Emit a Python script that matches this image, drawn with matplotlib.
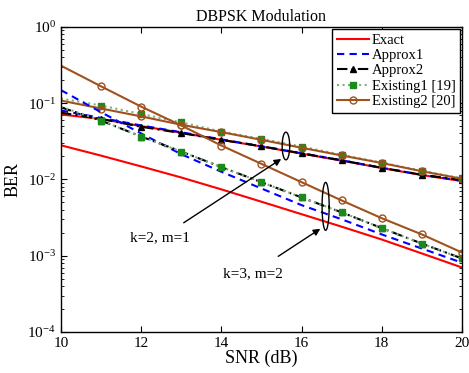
import numpy as np
import matplotlib
matplotlib.use("Agg")
import matplotlib.pyplot as plt
from matplotlib.ticker import LogLocator, NullFormatter

plt.rcParams['font.family'] = ['Liberation Serif', 'DejaVu Serif']
plt.rcParams['mathtext.fontset'] = 'custom'
plt.rcParams['mathtext.rm'] = 'Liberation Serif'

snr = [10, 11, 12, 13, 14, 15, 16, 17, 18, 19, 20]

# k=2, m=1
exact_a = [0.071, 0.062, 0.050, 0.041, 0.033, 0.027, 0.0218, 0.0176, 0.0141, 0.0114, 0.0095]
approx1_a = [0.080, 0.064, 0.051, 0.0415, 0.0335, 0.0272, 0.022, 0.0178, 0.0142, 0.0115, 0.0096]
approx2_a = [0.075, 0.062, 0.049, 0.0405, 0.033, 0.0272, 0.022, 0.0178, 0.0142, 0.0115, 0.0098]
exist1_a = [0.115, 0.093, 0.072, 0.056, 0.0424, 0.034, 0.027, 0.021, 0.0166, 0.013, 0.0103]
exist2_a = [0.108, 0.085, 0.067, 0.052, 0.0417, 0.033, 0.026, 0.0206, 0.0164, 0.0128, 0.0102]

# k=3, m=2
exact_b = [0.028, 0.0205, 0.0148, 0.0106, 0.0074, 0.0051, 0.0035, 0.0024, 0.00163, 0.00107, 0.0007]
approx1_b = [0.148, 0.076, 0.040, 0.0214, 0.0126, 0.0076, 0.0046, 0.0030, 0.0019, 0.00124, 0.00081]
approx2_b = [0.088, 0.059, 0.0365, 0.0232, 0.0145, 0.0092, 0.0058, 0.0037, 0.0023, 0.00144, 0.00092]
exist1_b = [0.090, 0.059, 0.0365, 0.0232, 0.0145, 0.0092, 0.0058, 0.0037, 0.0023, 0.00144, 0.00092]
exist2_b = [0.31, 0.166, 0.090, 0.051, 0.0278, 0.016, 0.0092, 0.0053, 0.0031, 0.0019, 0.0011]

brown = '#a0521e'
green = '#1a8a1a'
styles = {
    'Exact': dict(color='red', ls='-'),
    'Approx1': dict(color='blue', ls=(0, (3.5, 2.5))),
    'Approx2': dict(color='black', ls=(0, (5, 2, 1, 2)), marker='^', ms=5, mfc='black'),
    'Existing1 [19]': dict(color='#7fb07f', ls=':', marker='s', ms=4.5, mfc=green, mec=green),
    'Existing2 [20]': dict(color=brown, ls='-', marker='o', ms=5, mfc='none', mec=brown),
}

fig = plt.figure(figsize=(4.69, 3.73), dpi=100)
ax = fig.add_axes([0.130, 0.110, 0.855, 0.818])

groups = [
    (exact_a, approx1_a, approx2_a, exist1_a, exist2_a),
    (exact_b, approx1_b, approx2_b, exist1_b, exist2_b),
]
for gi, grp in enumerate(groups):
    for (name, st), y in zip(styles.items(), grp):
        ax.plot(snr, y, lw=1.5, markevery=slice(1, None),
                label=name if gi == 0 else None, **st)

ax.set_yscale('log')
ax.set_xlim(10, 20)
ax.set_ylim(1e-4, 1)
ax.set_xticks([10, 12, 14, 16, 18, 20])
ax.yaxis.set_major_locator(LogLocator(base=10, numticks=10))
ax.yaxis.set_minor_locator(LogLocator(base=10, subs=np.arange(2, 10), numticks=10))
ax.yaxis.set_minor_formatter(NullFormatter())
ax.tick_params(which='both', direction='in', top=True, right=True, labelsize=11)
ax.tick_params(which='major', length=4)
ax.tick_params(which='minor', length=2)
for s in ax.spines.values():
    s.set_linewidth(1.0)

ax.set_title('DBPSK Modulation', fontsize=11.5, pad=4)
ax.set_xlabel('SNR (dB)', fontsize=13, labelpad=0)
ax.set_ylabel('BER', fontsize=13, labelpad=4)

# ellipses marking the curve groups
t = np.linspace(0, 2 * np.pi, 100)
for cx, cy, a, b in [(15.61, 10 ** -1.562, 0.094, 0.181), (16.6, 10 ** -2.353, 0.088, 0.314)]:
    ax.plot(cx + a * np.cos(t), 10 ** (np.log10(cy) + b * np.sin(t)), color='black', lw=1.0)

ax.annotate('k=2, m=1', xy=(15.55, 10 ** -1.712), xytext=(12.475, 10 ** -2.77),
            fontsize=11, ha='center', va='center',
            arrowprops=dict(arrowstyle='-|>', color='black', lw=1.0, shrinkA=8,
                            mutation_scale=10))
ax.annotate('k=3, m=2', xy=(16.525, 10 ** -2.627), xytext=(14.775, 10 ** -3.23),
            fontsize=11, ha='center', va='center',
            arrowprops=dict(arrowstyle='-|>', color='black', lw=1.0, shrinkA=10,
                            mutation_scale=10))

leg = ax.legend(loc='upper right', fontsize=10.5, handlelength=2.2, handletextpad=0.2,
                borderaxespad=0.15, borderpad=0.3, labelspacing=0.15, fancybox=False,
                framealpha=1, edgecolor='black')
leg.get_frame().set_linewidth(1.0)

fig.savefig('out.png', dpi=100)
